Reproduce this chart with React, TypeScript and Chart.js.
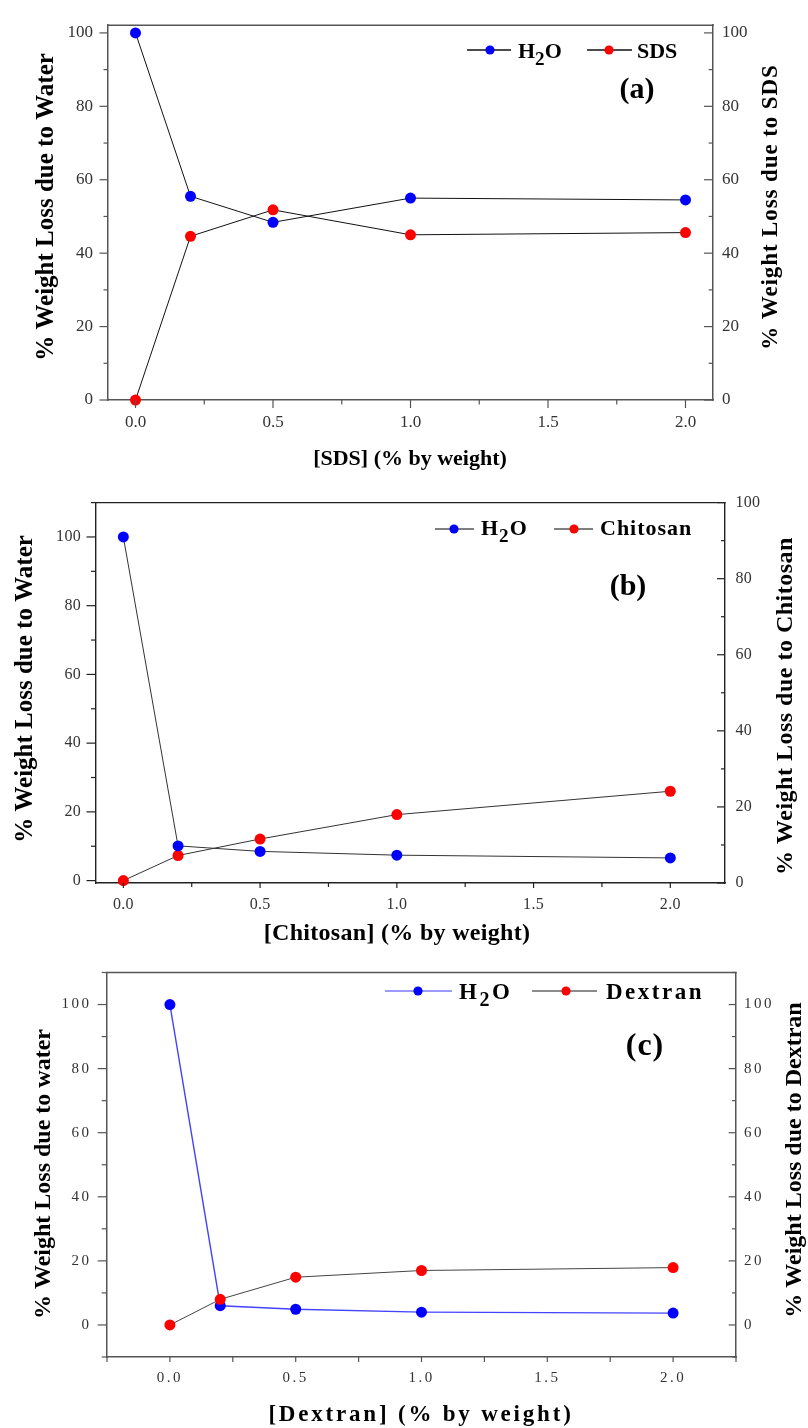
import React, { useEffect, useRef } from 'react';
import { Chart, registerables } from 'chart.js';

Chart.register(...registerables);

const FONT = "'Liberation Serif', 'Times New Roman', serif";

// ---- data ----
const X_VALUES = [0, 0.2, 0.5, 1.0, 2.0];
const SDS_WATER = [100, 55.5, 48.4, 55.0, 54.5];
const SDS_SDS = [0, 44.6, 51.8, 45.0, 45.6];
const CHI_WATER = [100, 10.1, 8.5, 7.4, 6.6];
const CHI_CHI = [0, 7.3, 12.1, 19.2, 26.0];
const DEX_WATER = [100, 6.0, 4.9, 4.0, 3.7];
const DEX_DEX = [0, 8.0, 14.9, 17.0, 17.9];

const X_TICKS = [0, 0.5, 1.0, 1.5, 2.0];
const Y_TICKS = [0, 20, 40, 60, 80, 100];
const X_STEP = 0.5;
const Y_STEP = 20;

const NAMES_A = ['H2O', 'SDS'];
const NAMES_B = ['H2O', 'Chitosan'];
const NAMES_C = ['H2O', 'Dextran'];

const BLUE = '#0000ff';
const RED = '#ff0000';

// ---- layout / style per panel ----
const PANELS: any[] = [
  {
    top: 0, height: 478,
    plot: { left: 108, right: 713, top: 16, bottom: 400 },
    x: { min: -0.1, max: 2.1, major: 8, minor: 4.5, pad: 12 },
    y: { min: 0, max: 102.1, major: 8.5, minor: 4.5, pad: 15 },
    y2: { min: 0, max: 102.1, major: 9, minor: 4.3, pad: 9 },
    tickFont: 17, tickSpacing: 0, tickColor: '#333',
    axisColor: '#555', axisWidth: 1.5,
    series: [
      { name: NAMES_A[0], values: SDS_WATER, point: BLUE, line: '#111', width: 1, order: 0,
        leg: { x1: 467, x2: 511, dot: 490, text: 518, line: '#111' } },
      { name: NAMES_A[1], values: SDS_SDS, point: RED, line: '#111', width: 1, order: 1,
        leg: { x1: 587, x2: 632, dot: 609, text: 637, line: '#111' } },
    ],
    legend: { y: 50, baseline: 58, size: 22, spacing: 0 },
    tag: { text: '(a)', x: 637, y: 98, size: 30, spacing: 0 },
    titles: [
      { text: '% Weight Loss due to Water', x: 53, y: 207, size: 25, spacing: 0, rot: -Math.PI / 2 },
      { text: '% Weight Loss due to SDS', x: 777, y: 207, size: 23, spacing: 0.9, rot: -Math.PI / 2 },
      { text: '[SDS] (% by weight)', x: 410, y: 465, size: 22, spacing: 0, rot: 0 },
    ],
  },
  {
    top: 478, height: 470,
    plot: { left: 96, right: 725, top: 497, bottom: 883 },
    x: { min: -0.1, max: 2.2, major: 5, minor: 4, pad: 12 },
    y: { min: -0.7, max: 110, major: 9.5, minor: 5, pad: 15 },
    y2: { min: 0, max: 100, major: 8, minor: 4, pad: 10.5 },
    tickFont: 16, tickSpacing: 0.3, tickColor: '#333',
    axisColor: '#222', axisWidth: 1.4,
    series: [
      { name: NAMES_B[0], values: CHI_WATER, point: BLUE, line: '#333', width: 1, order: 0,
        leg: { x1: 435, x2: 474, dot: 454, text: 481, line: '#555' } },
      { name: NAMES_B[1], values: CHI_CHI, point: RED, line: '#333', width: 1, order: 1,
        leg: { x1: 554, x2: 593, dot: 574, text: 600, line: '#555' } },
    ],
    legend: { y: 529, baseline: 535, size: 22, spacing: 1 },
    tag: { text: '(b)', x: 628, y: 595, size: 30, spacing: 0 },
    titles: [
      { text: '% Weight Loss due to Water', x: 32, y: 689, size: 25, spacing: 0, rot: -Math.PI / 2 },
      { text: '% Weight Loss due to Chitosan', x: 792, y: 706, size: 24, spacing: 0.5, rot: -Math.PI / 2 },
      { text: '[Chitosan] (% by weight)', x: 397, y: 940, size: 24, spacing: 0.3, rot: 0 },
    ],
  },
  {
    top: 948, height: 480,
    plot: { left: 107, right: 736, top: 968, bottom: 1357 },
    x: { min: -0.25, max: 2.25, major: 5, minor: 5, pad: 12 },
    y: { min: -10, max: 110, major: 9.3, minor: 5.3, pad: 15.5 },
    y2: { min: -10, max: 110, major: 7.3, minor: 4, pad: 8 },
    tickFont: 15, tickSpacing: 2.5, tickColor: '#333',
    axisColor: '#555', axisWidth: 1.5,
    series: [
      { name: NAMES_C[0], values: DEX_WATER, point: BLUE, line: '#4444ff', width: 1.4, order: 1,
        leg: { x1: 385, x2: 452, dot: 418, text: 459, line: '#7a7aff' } },
      { name: NAMES_C[1], values: DEX_DEX, point: RED, line: '#444', width: 1, order: 0,
        leg: { x1: 532, x2: 597, dot: 566, text: 606, line: '#666' } },
    ],
    legend: { y: 991, baseline: 999, size: 23, spacing: 2.5 },
    tag: { text: '(c)', x: 645, y: 1055, size: 32, spacing: 1 },
    titles: [
      { text: '% Weight Loss due to water', x: 50, y: 1174, size: 24, spacing: 0, rot: -Math.PI / 2 },
      { text: '% Weight Loss due to Dextran', x: 801, y: 1160, size: 24, spacing: 0, rot: -Math.PI / 2 },
      { text: '[Dextran] (% by weight)', x: 421, y: 1421, size: 23, spacing: 2.8, rot: 0 },
    ],
  },
];

function tickSet(majors: number[], step: number, min: number, max: number) {
  const eps = 1e-6;
  const out: { v: number; major: boolean }[] = [];
  const seen = new Set<string>();
  majors.forEach((m) => {
    if (m >= min - eps && m <= max + eps) {
      out.push({ v: m, major: true });
      seen.add(m.toFixed(4));
    }
  });
  majors.forEach((m) => {
    [m - step / 2, m + step / 2].forEach((v) => {
      const k = v.toFixed(4);
      if (v >= min - eps && v <= max + eps && !seen.has(k)) {
        seen.add(k);
        out.push({ v, major: false });
      }
    });
  });
  return out;
}

function drawText(ctx: any, text: string, x: number, y: number, size: number, spacing: number, rot: number) {
  ctx.save();
  ctx.translate(x, y);
  ctx.rotate(rot);
  ctx.font = `bold ${size}px ${FONT}`;
  ctx.letterSpacing = `${spacing}px`;
  ctx.textAlign = 'center';
  ctx.textBaseline = 'alphabetic';
  ctx.fillStyle = '#000';
  ctx.fillText(text, 0, 0);
  ctx.restore();
}

function drawLabel(ctx: any, label: string, x: number, baseline: number, size: number, spacing: number) {
  ctx.save();
  ctx.textAlign = 'left';
  ctx.textBaseline = 'alphabetic';
  ctx.fillStyle = '#000';
  ctx.letterSpacing = `${spacing}px`;
  let cx = x;
  for (const ch of label) {
    const sub = /\d/.test(ch);
    const s = sub ? size * 0.87 : size;
    ctx.font = `bold ${s}px ${FONT}`;
    ctx.fillText(ch, cx, baseline + (sub ? size * 0.3 : 0));
    cx += ctx.measureText(ch).width;
  }
  ctx.restore();
}

function makeDecor(panel: any) {
  const off = panel.top;
  return {
    id: 'decor',
    beforeDraw(chart: any) {
      chart.ctx.letterSpacing = `${panel.tickSpacing}px`;
    },
    beforeDatasetsDraw(chart: any) {
      chart.ctx.letterSpacing = '0px';
    },
    afterDraw(chart: any) {
      const ctx = chart.ctx;
      const a = chart.chartArea;
      ctx.save();
      ctx.letterSpacing = '0px';
      ctx.strokeStyle = panel.axisColor;
      ctx.lineWidth = panel.axisWidth;
      ctx.beginPath();
      ctx.moveTo(a.left - panel.axisWidth / 2, a.top);
      ctx.lineTo(a.right + panel.axisWidth / 2, a.top);
      ctx.stroke();

      ctx.lineWidth = 1.2;
      const seg = (x1: number, y1: number, x2: number, y2: number) => {
        ctx.beginPath();
        ctx.moveTo(x1, y1);
        ctx.lineTo(x2, y2);
        ctx.stroke();
      };
      const xs = chart.scales.x;
      tickSet(X_TICKS, X_STEP, panel.x.min, panel.x.max).forEach(({ v, major }) => {
        const px = xs.getPixelForValue(v);
        seg(px, a.bottom, px, a.bottom + (major ? panel.x.major : panel.x.minor));
      });
      const ys = chart.scales.y;
      tickSet(Y_TICKS, Y_STEP, panel.y.min, panel.y.max).forEach(({ v, major }) => {
        const py = ys.getPixelForValue(v);
        seg(a.left, py, a.left - (major ? panel.y.major : panel.y.minor), py);
      });
      const ys2 = chart.scales.y2;
      tickSet(Y_TICKS, Y_STEP, panel.y2.min, panel.y2.max).forEach(({ v, major }) => {
        const py = ys2.getPixelForValue(v);
        seg(a.right, py, a.right - (major ? panel.y2.major : panel.y2.minor), py);
      });
      ctx.restore();

      panel.titles.forEach((t: any) => drawText(ctx, t.text, t.x, t.y - off, t.size, t.spacing, t.rot));

      const lg = panel.legend;
      panel.series.forEach((s: any) => {
        ctx.save();
        ctx.strokeStyle = s.leg.line;
        ctx.lineWidth = 1.3;
        ctx.beginPath();
        ctx.moveTo(s.leg.x1, lg.y - off);
        ctx.lineTo(s.leg.x2, lg.y - off);
        ctx.stroke();
        ctx.fillStyle = s.point;
        ctx.beginPath();
        ctx.arc(s.leg.dot, lg.y - off, 4.6, 0, Math.PI * 2);
        ctx.fill();
        ctx.restore();
        drawLabel(ctx, s.name, s.leg.text, lg.baseline - off, lg.size, lg.spacing);
      });

      drawText(ctx, panel.tag.text, panel.tag.x, panel.tag.y - off, panel.tag.size, panel.tag.spacing, 0);
    },
  };
}

function buildConfig(panel: any): any {
  const tickFont = { family: FONT, size: panel.tickFont, weight: 'normal' };
  const border = { display: true, color: panel.axisColor, width: panel.axisWidth };
  const grid = { display: false, drawTicks: false };
  return {
    type: 'line',
    data: {
      datasets: panel.series.map((s: any) => ({
        label: s.name,
        data: X_VALUES.map((x, i) => ({ x, y: s.values[i] })),
        borderColor: s.line,
        borderWidth: s.width,
        pointRadius: 5.5,
        pointHoverRadius: 5.5,
        pointBackgroundColor: s.point,
        pointBorderColor: s.point,
        pointBorderWidth: 0,
        tension: 0,
        fill: false,
        clip: false,
        order: s.order,
        yAxisID: 'y',
      })),
    },
    options: {
      responsive: false,
      animation: false,
      devicePixelRatio: 1,
      events: [],
      layout: { padding: { top: panel.plot.top - panel.top, left: 0, right: 0, bottom: 0 } },
      plugins: { legend: { display: false }, tooltip: { enabled: false } },
      scales: {
        x: {
          type: 'linear',
          position: 'bottom',
          min: panel.x.min,
          max: panel.x.max,
          afterFit: (s: any) => { s.height = panel.top + panel.height - panel.plot.bottom; },
          afterBuildTicks: (s: any) => { s.ticks = X_TICKS.map((v) => ({ value: v })); },
          ticks: {
            callback: (v: any) => Number(v).toFixed(1),
            font: tickFont, color: panel.tickColor, padding: panel.x.pad,
            autoSkip: false, maxRotation: 0, minRotation: 0,
          },
          grid, border,
        },
        y: {
          type: 'linear',
          position: 'left',
          min: panel.y.min,
          max: panel.y.max,
          afterFit: (s: any) => { s.width = panel.plot.left; },
          afterBuildTicks: (s: any) => { s.ticks = Y_TICKS.map((v) => ({ value: v })); },
          ticks: {
            callback: (v: any) => String(v),
            font: tickFont, color: panel.tickColor, padding: panel.y.pad, autoSkip: false,
          },
          grid, border,
        },
        y2: {
          type: 'linear',
          position: 'right',
          min: panel.y2.min,
          max: panel.y2.max,
          afterFit: (s: any) => { s.width = 808 - panel.plot.right; },
          afterBuildTicks: (s: any) => { s.ticks = Y_TICKS.map((v) => ({ value: v })); },
          ticks: {
            callback: (v: any) => String(v),
            font: tickFont, color: panel.tickColor, padding: panel.y2.pad, autoSkip: false,
          },
          grid, border,
        },
      },
    },
    plugins: [makeDecor(panel)],
  };
}

function Panel({ panel }: { panel: any }) {
  const ref = useRef<HTMLCanvasElement>(null);
  useEffect(() => {
    const chart = new Chart(ref.current as HTMLCanvasElement, buildConfig(panel));
    return () => chart.destroy();
  }, [panel]);
  return (
    <canvas
      ref={ref}
      width={808}
      height={panel.height}
      style={{ position: 'absolute', left: 0, top: panel.top, width: 808, height: panel.height, display: 'block' }}
    />
  );
}

export default function App() {
  return (
    <div style={{ position: 'absolute', left: 0, top: 0, width: 808, height: 1428, background: '#fff', overflow: 'hidden' }}>
      {PANELS.map((p, i) => (
        <Panel key={i} panel={p} />
      ))}
    </div>
  );
}
